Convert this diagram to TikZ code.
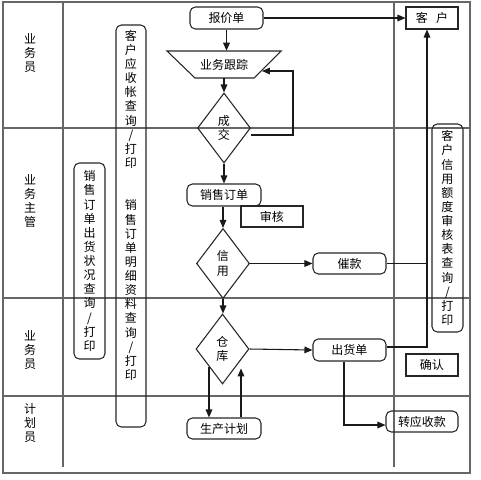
\documentclass[tikz,border=0pt]{standalone}
\usepackage{fontspec}
\newfontfamily\cjk{Noto Sans CJK SC}
\usetikzlibrary{shapes.geometric,arrows.meta,calc}
\begin{document}
\begin{tikzpicture}[x=0.75pt,y=-0.75pt,
  every node/.style={font=\cjk\fontsize{9}{10.6}\selectfont, inner sep=0pt},
  lane/.style={draw=black!60, line width=1.1pt},
  outerframe/.style={draw=black!60, line width=1.6pt},
  shp/.style={draw=black!85, line width=0.8pt},
  flow/.style={shp, rounded corners=4pt, minimum width=55.5pt, minimum height=16.5pt},
  sqbox/.style={shp, minimum width=39pt, minimum height=16.5pt},
  dec/.style={shp, diamond, aspect=0.76, minimum width=39.75pt, minimum height=52.5pt, align=center},
  tall/.style={shp, rounded corners=4pt, align=center},
  lbl/.style={align=center},
  conn/.style={draw=black!90, line width=0.8pt},
  arr/.style={conn, -{Triangle[length=6pt,width=5pt]}}
]
\useasboundingbox (0,0) rectangle (480,480);
% frame and lanes
\draw[outerframe] (3,2) rectangle (470,473);
\draw[lane] (3,128) -- (470,128);
\draw[lane] (3,298) -- (470,298);
\draw[lane] (3,396) -- (470,396);
\draw[lane] (63,2) -- (63,467);
\draw[lane] (394,2) -- (394,467);
% lane labels
\node[lbl] (l1) at (30,53) {业\\务\\员};
\node[lbl] (l2) at (30,201) {业\\务\\主\\管};
\node[lbl] (l3) at (30,350) {业\\务\\员};
\node[lbl] (l4) at (30,423) {计\\划\\员};
% tall query boxes
\node[tall, minimum width=22.5pt, minimum height=301.5pt] (recvq) at (131,226)
  {客\\户\\应\\收\\帐\\查\\询\\/\\打\\印\\\mbox{}\\\mbox{}\\销\\售\\订\\单\\明\\细\\资\\料\\查\\询\\/\\打\\印\\\mbox{}\\\mbox{}\\\mbox{}};
\node[tall, minimum width=23.25pt, minimum height=147pt] (shipq) at (89.5,261)
  {销\\售\\订\\单\\出\\货\\状\\况\\查\\询\\/\\打\\印};
\node[tall, minimum width=23.25pt, minimum height=156pt] (credq) at (447.5,228)
  {客\\户\\信\\用\\额\\度\\审\\核\\表\\查\\询\\/\\打\\印};
% flow nodes
\node[flow, minimum width=54.75pt] (quote) at (226.5,18) {报价单};
\node[sqbox] (cust) at (432,18) {客\hspace{0.7em}户};
\draw[shp] (167,51) -- (281,51) -- (254,78) -- (195,78) -- cycle;
\node[minimum width=44pt, minimum height=20.25pt] (track) at (224,64.5) {业务跟踪};
\node[dec] (deal) at (224,128) {成\\交};
\node[sqbox, minimum width=46.5pt, minimum height=15.75pt] (audit) at (272,216.5) {审核};
\node[flow] (order) at (224,195) {销售订单};
\node[dec] (credit) at (223,263.5) {信\\用};
\node[flow, minimum width=54.75pt, minimum height=15.75pt] (dun) at (349.5,263.5) {催款};
\node[dec] (store) at (222.5,349) {仓\\库};
\node[flow, minimum width=54.75pt] (ship) at (349.5,350) {出货单};
\node[sqbox] (confirm) at (432,365) {确认};
\node[flow, minimum width=54pt, minimum height=15.75pt] (recvb) at (422,421.5) {转应收款};
\node[flow, minimum height=15.75pt] (plan) at (224,428.5) {生产计划};
% connectors
\coordinate (trackin) at (262,71);
\coordinate (custin) at ($(cust.south)+(-5,0)$);
\draw[arr] (quote.east) -- (cust.west);
\draw[arr] (quote.south) -- (quote.south |- track.north);
\draw[arr] (track.south) -- (deal.north);
\draw[arr] ($(deal.east)+(0,7)$) -- ++(42,0) |- (trackin);
\draw[arr] (deal.south) -- (order.north);
\draw[arr] (order.south -| credit.north) -- (credit.north);
\draw[arr] (credit.east) -- (dun.west);
\draw[conn] (dun.east) -- (dun.east -| custin);
\draw[arr] ($(ship.east)+(0,-3)$) -| (custin);
\draw[arr] (credit.south) -- (credit.south |- store.north);
\draw[arr] (store.east) -- (ship.west);
\draw[arr] ($(ship.south)+(-5.5,0)$) |- ($(recvb.west)+(0,3.5)$);
\draw[arr] (store.south west) -- (store.south west |- plan.north);
\draw[arr] ($(plan.north)+(17,0)$) -- ++(0,-49);
\end{tikzpicture}
\end{document}
